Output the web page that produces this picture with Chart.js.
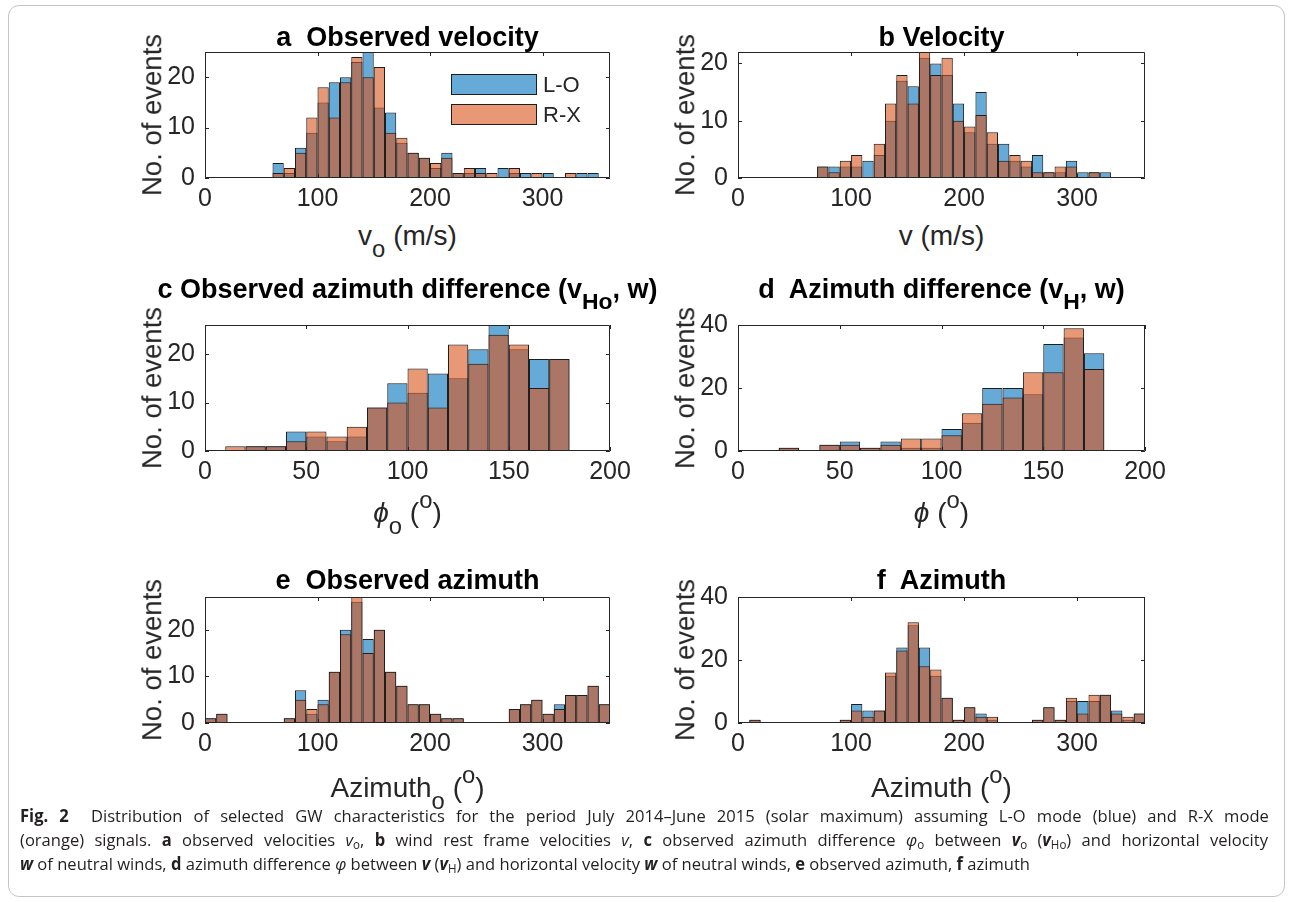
<!DOCTYPE html>
<html>
<head>
<meta charset="utf-8">
<script src="https://cdn.jsdelivr.net/npm/chart.js@4.4.0/dist/chart.umd.min.js"></script>
<style>
  body { margin: 0; background: #fff; width: 1291px; height: 902px; position: relative; overflow: hidden;
         font-family: "Liberation Sans", Arial, sans-serif; }
  .frame { position: absolute; left: 8px; top: 5px; width: 1275px; height: 890px;
           border: 1px solid #c4c4c4; border-radius: 11px; }
  canvas { position: absolute; }
  .txt { position: absolute; white-space: nowrap; transform: translate(-50%, -50%); line-height: 1; color: #262626; }
  .ttl { font-weight: bold; font-size: 27px; color: #000; }
  .lbl { font-size: 28px; }
  .ylbl { transform: translate(-50%, -50%) rotate(-90deg); font-size: 27.5px; }
  .txt sub, .txt sup { font-size: 0.85em; line-height: 0; }
  .txt sub { vertical-align: -0.5em; }
  .txt sup { vertical-align: 0.6em; }
  .cap { position: absolute; left: 20px; white-space: nowrap; transform-origin: 0 50%;
         font-family: "Open Sans", "Noto Sans", sans-serif; font-size: 17px; color: #231f20; line-height: 1; }
  .cap sub { font-size: 0.7em; line-height: 0; vertical-align: -0.3em; }
</style>
</head>
<body>
<div class="frame"></div>
<div id="root"></div>
<script>
// all histograms use 10-unit bins; *Start is the left edge of the first bin
const BIN = 10;
const SERIES = ['L-O', 'R-X'];

// a  observed velocity v_o (m/s)
const vObsStart = 60;
const vObsLO = [3, 1, 6, 9, 15, 19, 20, 23, 25, 14, 13, 7, 5, 4, 2, 5, 1, 1, 2, 0, 2, 1, 1, 0, 1, 0, 0, 1, 1];
const vObsRX = [1, 2, 5, 12, 18, 12, 19, 24, 20, 22, 9, 8, 5, 4, 3, 4, 1, 2, 1, 1, 0, 2, 0, 1, 0, 0, 1, 0, 0];

// b  velocity v (m/s)
const vStart = 70;
const vLO = [2, 2, 2, 2, 3, 4, 10, 17, 16, 21, 20, 18, 13, 8, 15, 6, 6, 3, 2, 4, 1, 1, 3, 1, 1, 1];
const vRX = [2, 1, 3, 4, 0, 6, 13, 18, 13, 22, 18, 21, 10, 9, 11, 8, 3, 4, 3, 1, 1, 2, 2, 0, 1, 0];

// c  observed azimuth difference phi_o (deg)
const phiObsStart = 10;
const phiObsLO = [0, 1, 1, 4, 3, 2, 3, 9, 14, 12, 16, 15, 21, 26, 21, 19, 19];
const phiObsRX = [1, 1, 1, 2, 4, 3, 5, 9, 10, 17, 9, 22, 18, 24, 22, 13, 19];

// d  azimuth difference phi (deg)
const phiStart = 20;
const phiLO = [1, 0, 2, 3, 1, 3, 1, 1, 7, 9, 20, 20, 18, 34, 36, 31];
const phiRX = [1, 0, 2, 2, 1, 2, 4, 4, 5, 12, 15, 17, 25, 25, 39, 26];

// e  observed azimuth (deg)
const azObsStart = 0;
const azObsLO = [1, 2, 0, 0, 0, 0, 0, 1, 7, 2, 5, 11, 20, 26, 18, 20, 11, 8, 4, 4, 2, 1, 1, 0, 0, 0, 0, 3, 4, 5, 2, 4, 6, 6, 8, 4];
const azObsRX = [1, 2, 0, 0, 0, 0, 0, 1, 5, 3, 4, 11, 19, 27, 15, 20, 11, 8, 4, 4, 2, 1, 1, 0, 0, 0, 0, 3, 4, 5, 2, 3, 6, 6, 8, 4];

// f  azimuth (deg)
const azStart = 0;
const azLO = [0, 1, 0, 0, 0, 0, 0, 0, 0, 1, 6, 4, 4, 15, 24, 31, 24, 15, 8, 1, 5, 3, 1, 0, 0, 0, 1, 5, 1, 7, 7, 7, 9, 4, 1, 3];
const azRX = [0, 1, 0, 0, 0, 0, 0, 0, 0, 1, 4, 2, 4, 16, 23, 32, 18, 17, 8, 1, 5, 2, 2, 0, 0, 0, 1, 5, 1, 8, 3, 9, 9, 3, 2, 3];

// axis ticks
const velTicks = [0, 100, 200, 300];
const diffTicks = [0, 50, 100, 150, 200];
const azTicks = [0, 100, 200, 300];
const countTicks10 = [0, 10, 20];
const countTicks20 = [0, 20, 40];

const BLUE = 'rgba(0, 114, 189, 0.6)';
const ORANGE = 'rgba(217, 83, 25, 0.6)';
const EDGE = '#1e1e1e';
const FONT = '"Liberation Sans", Arial, sans-serif';

const panels = [
    { left: 205, top: 52, right: 610, bottom: 178, titleY: 37, xTitleY: 236,
      title: 'a&nbsp; Observed velocity', xTitle: 'v<sub>o</sub> (m/s)',
      xMax: 360, xTicks: velTicks, yMax: 25, yTicks: countTicks10,
      start: vObsStart, lo: vObsLO, rx: vObsRX, legend: true },
    { left: 738, top: 52, right: 1145, bottom: 178, titleY: 37, xTitleY: 236,
      title: 'b Velocity', xTitle: 'v (m/s)',
      xMax: 360, xTicks: velTicks, yMax: 22, yTicks: countTicks10,
      start: vStart, lo: vLO, rx: vRX },
    { left: 205, top: 325, right: 610, bottom: 451, titleY: 289, xTitleY: 513,
      title: 'c Observed azimuth difference (v<sub>Ho</sub>, w)', xTitle: '<i>&#981;</i><sub>o</sub> (<sup>o</sup>)',
      xMax: 200, xTicks: diffTicks, yMax: 26, yTicks: countTicks10,
      start: phiObsStart, lo: phiObsLO, rx: phiObsRX },
    { left: 738, top: 325, right: 1145, bottom: 451, titleY: 289, xTitleY: 513,
      title: 'd&nbsp; Azimuth difference (v<sub>H</sub>, w)', xTitle: '<i>&#981;</i> (<sup>o</sup>)',
      xMax: 200, xTicks: diffTicks, yMax: 40, yTicks: countTicks20,
      start: phiStart, lo: phiLO, rx: phiRX },
    { left: 205, top: 597, right: 610, bottom: 723, titleY: 580, xTitleY: 788,
      title: 'e&nbsp; Observed azimuth', xTitle: 'Azimuth<sub>o</sub> (<sup>o</sup>)',
      xMax: 360, xTicks: azTicks, yMax: 27, yTicks: countTicks10,
      start: azObsStart, lo: azObsLO, rx: azObsRX },
    { left: 738, top: 597, right: 1145, bottom: 723, titleY: 580, xTitleY: 788,
      title: 'f&nbsp; Azimuth', xTitle: 'Azimuth (<sup>o</sup>)',
      xMax: 360, xTicks: azTicks, yMax: 40, yTicks: countTicks20,
      start: azStart, lo: azLO, rx: azRX }
];

// box with inward tick marks on all four sides (MATLAB style)
const frameTicks = {
    id: 'frameTicks',
    afterDatasetsDraw(chart) {
        const { ctx, chartArea: a, scales: { x, y } } = chart;
        const len = 4;
        ctx.save();
        ctx.strokeStyle = '#262626';
        ctx.lineWidth = 1;
        ctx.beginPath();
        ctx.rect(a.left + 0.5, a.top + 0.5, a.right - a.left - 1, a.bottom - a.top - 1);
        x.ticks.forEach(t => {
            const px = Math.round(x.getPixelForValue(t.value)) + 0.5;
            ctx.moveTo(px, a.bottom); ctx.lineTo(px, a.bottom - len);
            ctx.moveTo(px, a.top); ctx.lineTo(px, a.top + len);
        });
        y.ticks.forEach(t => {
            const py = Math.round(y.getPixelForValue(t.value)) + 0.5;
            ctx.moveTo(a.left, py); ctx.lineTo(a.left + len, py);
            ctx.moveTo(a.right, py); ctx.lineTo(a.right - len, py);
        });
        ctx.stroke();
        ctx.restore();
    }
};

// legend drawn inside the plot area, top right
const boxLegend = {
    id: 'boxLegend',
    afterDraw(chart, args, opts) {
        if (!opts.show) return;
        const { ctx, chartArea: a } = chart;
        ctx.save();
        ctx.font = '22px ' + FONT;
        ctx.textBaseline = 'middle';
        chart.data.datasets.forEach((ds, i) => {
            const bx = a.left + opts.dx, by = a.top + opts.dy + i * opts.gap;
            ctx.fillStyle = ds.backgroundColor;
            ctx.fillRect(bx, by, opts.w, opts.h);
            ctx.strokeStyle = EDGE;
            ctx.lineWidth = 1;
            ctx.strokeRect(bx + 0.5, by + 0.5, opts.w - 1, opts.h - 1);
            ctx.fillStyle = '#262626';
            ctx.fillText(ds.label, bx + opts.w + 6, by + opts.h / 2 + 1);
        });
        ctx.restore();
    }
};

const PAD_L = 50, PAD_T = 32, PAD_R = 40, PAD_B = 40;
const root = document.getElementById('root');

function addText(html, x, y, cls) {
    const d = document.createElement('div');
    d.className = 'txt ' + cls;
    d.innerHTML = html;
    d.style.left = x + 'px';
    d.style.top = y + 'px';
    root.appendChild(d);
}

function toPoints(start, counts) {
    return counts.map((c, i) => ({ x: start + i * BIN + BIN / 2, y: c }));
}

panels.forEach(p => {
    const canvas = document.createElement('canvas');
    const w = p.right - p.left + PAD_L + PAD_R;
    const h = p.bottom - p.top + PAD_T + PAD_B;
    canvas.width = w;
    canvas.height = h;
    canvas.style.left = (p.left - PAD_L) + 'px';
    canvas.style.top = (p.top - PAD_T) + 'px';
    canvas.style.width = w + 'px';
    canvas.style.height = h + 'px';
    root.appendChild(canvas);

    new Chart(canvas.getContext('2d'), {
        type: 'bar',
        data: {
            datasets: [
                { label: SERIES[0], data: toPoints(p.start, p.lo), backgroundColor: BLUE, order: 2 },
                { label: SERIES[1], data: toPoints(p.start, p.rx), backgroundColor: ORANGE, order: 1 }
            ]
        },
        options: {
            responsive: false,
            animation: false,
            devicePixelRatio: 1,
            layout: { padding: { left: 0, top: PAD_T, right: PAD_R, bottom: 0 } },
            datasets: {
                bar: { grouped: false, barPercentage: 1, categoryPercentage: 1,
                       borderColor: EDGE, borderWidth: 1, inflateAmount: 0 }
            },
            plugins: {
                legend: { display: false },
                tooltip: { enabled: false },
                boxLegend: { show: !!p.legend, dx: 246, dy: 22, gap: 30, w: 86, h: 21 }
            },
            scales: {
                x: {
                    type: 'linear', min: 0, max: p.xMax, offset: false,
                    grid: { display: false, drawTicks: false, offset: false },
                    border: { display: false },
                    ticks: { font: { family: FONT, size: 25 }, color: '#262626', padding: 6, maxRotation: 0 },
                    afterBuildTicks: s => { s.ticks = p.xTicks.map(v => ({ value: v })); },
                    afterFit: s => { s.height = PAD_B; }
                },
                y: {
                    min: 0, max: p.yMax,
                    grid: { display: false, drawTicks: false },
                    border: { display: false },
                    ticks: { font: { family: FONT, size: 25 }, color: '#262626', padding: 10 },
                    afterBuildTicks: s => { s.ticks = p.yTicks.map(v => ({ value: v })); },
                    afterFit: s => { s.width = PAD_L; }
                }
            }
        },
        plugins: [frameTicks, boxLegend]
    });

    const cx = (p.left + p.right) / 2;
    addText(p.title, cx, p.titleY, 'ttl');
    addText(p.xTitle, cx, p.xTitleY, 'lbl');
    addText('No. of events', p.left - 53, (p.top + p.bottom) / 2, 'ylbl');
});

// caption: justified paragraph, last line left ragged
const capLines = [
    { y: 815, w: 1242, html: '<b>Fig. 2</b>&nbsp; Distribution of selected GW characteristics for the period July 2014–June 2015 (solar maximum) assuming L-O mode (blue) and R-X mode' },
    { y: 839, w: 1248, html: '(orange) signals. <b>a</b> observed velocities <i>v</i><sub>o</sub>, <b>b</b> wind rest frame velocities <i>v</i>, <b>c</b> observed azimuth difference <i>φ</i><sub>o</sub> between <b><i>v</i></b><sub>o</sub> (<b><i>v</i></b><sub>Ho</sub>) and horizontal velocity' },
    { y: 863, w: 1010, html: '<b><i>w</i></b> of neutral winds, <b>d</b> azimuth difference <i>φ</i> between <b><i>v</i></b> (<b><i>v</i></b><sub>H</sub>) and horizontal velocity <b><i>w</i></b> of neutral winds, <b>e</b> observed azimuth, <b>f</b> azimuth' }
];
const capEls = capLines.map(c => {
    const d = document.createElement('div');
    d.className = 'cap';
    d.innerHTML = c.html;
    d.style.top = c.y + 'px';
    root.appendChild(d);
    return d;
});
const last = capLines.length - 1;
const squeeze = capLines[last].w / capEls[last].getBoundingClientRect().width;
capEls.forEach((d, i) => {
    if (i < last) {
        const natural = d.getBoundingClientRect().width;
        const gaps = (d.textContent.match(/ /g) || []).length;
        d.style.wordSpacing = Math.max(0, (capLines[i].w / squeeze - natural) / gaps) + 'px';
    }
    d.style.transform = `translateY(-50%) scaleX(${squeeze})`;
});
</script>
</body>
</html>
